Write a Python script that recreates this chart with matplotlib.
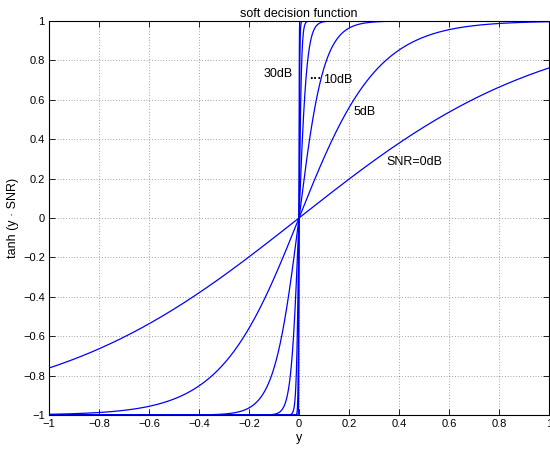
import matplotlib
matplotlib.use('Agg')
import matplotlib.pyplot as plt
import numpy as np

plt.rcParams['font.family'] = ['Liberation Sans', 'DejaVu Sans']
plt.rcParams['font.size'] = 8.5

# SNR levels in dB, one curve per level
snr_db = [0, 5, 10, 15, 20, 25, 30]
x_ticks = [-1, -0.8, -0.6, -0.4, -0.2, 0, 0.2, 0.4, 0.6, 0.8, 1]
y_ticks = [-1, -0.8, -0.6, -0.4, -0.2, 0, 0.2, 0.4, 0.6, 0.8, 1]

# curve labels: text, x, y
labels = [('SNR=0dB', 0.35, 0.284),
          ('5dB', 0.22, 0.54),
          ('10dB', 0.096, 0.70),
          ('30dB', -0.14, 0.73)]

y = np.linspace(-1, 1, 4001)

fig = plt.figure(figsize=(5.5, 4.54), dpi=100)
ax = fig.add_axes([49/550, 39/454, 500/550, 394/454])

for s in snr_db:
    snr = 10 ** (s / 10)
    ax.plot(y, np.tanh(y * snr), color='blue', lw=0.9)

for txt, tx, ty in labels:
    ax.text(tx, ty, txt, ha='left', va='center', fontsize=9)
# dots marking the curves between 10dB and 30dB
ax.text(0.04, 0.705, '\u00b7\u00b7\u00b7', ha='left', va='center',
        fontsize=9, fontweight='bold')

ax.set_xlim(-1, 1)
ax.set_ylim(-1, 1)
ax.set_xticks(x_ticks)
ax.set_yticks(y_ticks)
fmt = lambda v: ('%g' % v).replace('-', '\u2212')
ax.set_xticklabels([fmt(v) for v in x_ticks])
ax.set_yticklabels([fmt(v) for v in y_ticks])
ax.tick_params(direction='in', top=True, right=True, length=4, width=0.6,
               labelsize=8, pad=3)
ax.grid(True, linestyle=(0, (1, 3)), color='black', linewidth=0.5, alpha=0.7)
for sp in ax.spines.values():
    sp.set_linewidth(0.8)

ax.set_xlabel('y', fontsize=9, labelpad=2)
ax.set_ylabel('tanh (y \u00b7 SNR)', fontsize=9, labelpad=3)
ax.set_title('soft decision function', fontsize=9, pad=3)

fig.savefig('out.png', dpi=100)
